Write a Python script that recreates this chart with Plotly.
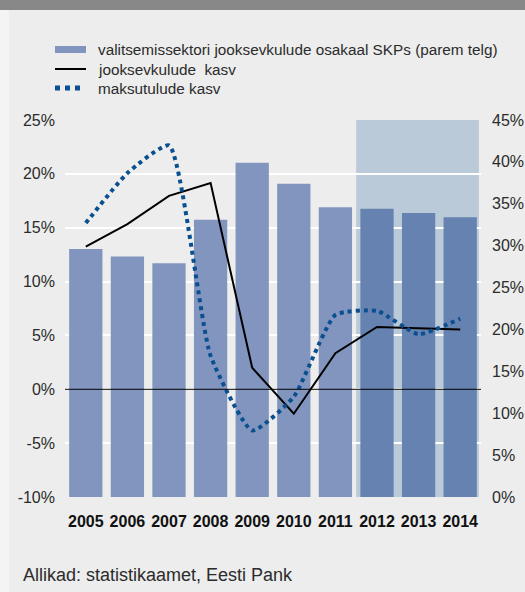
import plotly.graph_objects as go

years = ["2005", "2006", "2007", "2008", "2009", "2010", "2011", "2012", "2013", "2014"]
forecast_years = ["2012", "2013", "2014"]
share_gdp = [29.6, 28.7, 27.9, 33.1, 39.9, 37.4, 34.6, 34.4, 33.9, 33.4]  # right axis
spending_growth = [13.25, 15.33, 17.96, 19.14, 2.0, -2.27, 3.35, 5.79, 5.67, 5.54]
tax_growth = [15.43, 20.07, 22.64, 3.1, -3.83, -0.69, 6.9, 7.28, 5.11, 6.56]

left_ticks = [-10, -5, 0, 5, 10, 15, 20, 25]
right_ticks = [0, 5, 10, 15, 20, 25, 30, 35, 40, 45]

legend_labels = ["valitsemissektori jooksevkulude osakaal SKPs (parem telg)",
                 "jooksevkulude  kasv", "maksutulude kasv"]
source_text = "Allikad: statistikaamet, Eesti Pank"

W, H = 525, 592
ML, MR, MT, MB = 65, 44, 120, 95
PW, PH = W - ML - MR, H - MT - MB

def px(x):
    return (x - ML) / PW

def py(y):
    return (H - MB - y) / PH

BAR = "#8295bf"
BAR_F = "#6682b1"
BLUE = "#0a4f8f"
FONT = "Liberation Sans"
TXT = "#2b2b2b"

bar_colors = [BAR_F if y in forecast_years else BAR for y in years]

fig = go.Figure()
# bars on the right-hand (primary) axis, lines on the left-hand overlay axis
fig.add_trace(go.Bar(x=years, y=share_gdp, yaxis="y", marker=dict(color=bar_colors, line=dict(width=0)),
                     name=legend_labels[0], showlegend=False))
fig.add_trace(go.Scatter(x=years, y=spending_growth, yaxis="y2", mode="lines",
                         line=dict(color="black", width=2),
                         name=legend_labels[1], showlegend=False))
fig.add_trace(go.Scatter(x=years, y=tax_growth, yaxis="y2", mode="lines",
                         line=dict(color=BLUE, width=4, dash="4px,4px", shape="spline", smoothing=0.5),
                         name=legend_labels[2], showlegend=False))

shapes = [
    dict(type="rect", xref="paper", yref="paper", x0=px(0), x1=px(W), y0=py(10), y1=py(0),
         fillcolor="#888888", line=dict(width=0), layer="below"),
    dict(type="rect", xref="paper", yref="paper", x0=px(0), x1=px(9), y0=py(H), y1=py(10),
         fillcolor="#f4f4f4", line=dict(width=0), layer="below"),
    dict(type="rect", xref="x", yref="paper", x0=len(years) - len(forecast_years) - 0.5, x1=len(years) - 0.55,
         y0=0, y1=1, fillcolor="rgb(167,188,208)", opacity=0.72, line=dict(width=0), layer="between"),
    # zero line of left axis, drawn above the bars
    dict(type="line", xref="paper", yref="y2", x0=0, x1=1, y0=0, y1=0,
         line=dict(color="black", width=1), layer="above"),
    # legend swatches
    dict(type="rect", xref="paper", yref="paper", x0=px(55), x1=px(86), y0=py(53), y1=py(46),
         fillcolor=BAR, line=dict(width=0)),
    dict(type="line", xref="paper", yref="paper", x0=px(55), x1=px(86), y0=py(69), y1=py(69),
         line=dict(color="black", width=2)),
    dict(type="line", xref="paper", yref="paper", x0=px(55), x1=px(80), y0=py(88), y1=py(88),
         line=dict(color=BLUE, width=5, dash="5px,5px")),
]

annotations = []
for lab, yy in zip(legend_labels, [49, 69, 88]):
    annotations.append(dict(text=lab, xref="paper", yref="paper", x=px(96), y=py(yy), xanchor="left",
                            yanchor="middle", showarrow=False, font=dict(size=15.3, color=TXT, family=FONT)))
annotations.append(dict(text=source_text, xref="paper", yref="paper", x=px(21), y=py(575), xanchor="left",
                        yanchor="middle", showarrow=False, font=dict(size=18, color=TXT, family=FONT)))

fig.update_layout(
    width=W, height=H,
    margin=dict(l=ML, r=MR, t=MT, b=MB, autoexpand=False),
    paper_bgcolor="#ecedec", plot_bgcolor="#ecedec",
    bargap=0.2,
    shapes=shapes, annotations=annotations,
    font=dict(family=FONT, size=16, color=TXT),
    xaxis=dict(type="category", showgrid=False, showline=False, ticks="", automargin=False,
               tickfont=dict(size=16, color="#111111", family=FONT, weight="bold"), ticklabelstandoff=13),
    yaxis=dict(range=[0, 45], tickvals=right_ticks, ticktext=[f"{v}%" for v in right_ticks],
               side="right", showgrid=False, zeroline=False, showline=False, ticks="", automargin=False,
               ticklabelstandoff=10),
    yaxis2=dict(range=[-10, 25], tickvals=left_ticks, ticktext=[f"{v}%" for v in left_ticks],
                overlaying="y", side="left", showgrid=True, gridcolor="white", gridwidth=1.5,
                zeroline=False, showline=False, ticks="", automargin=False, ticklabelstandoff=9),
)

fig.write_html("out.html", config={"displayModeBar": False},
               post_script="document.body.style.margin='0px';document.body.style.overflow='hidden';")
